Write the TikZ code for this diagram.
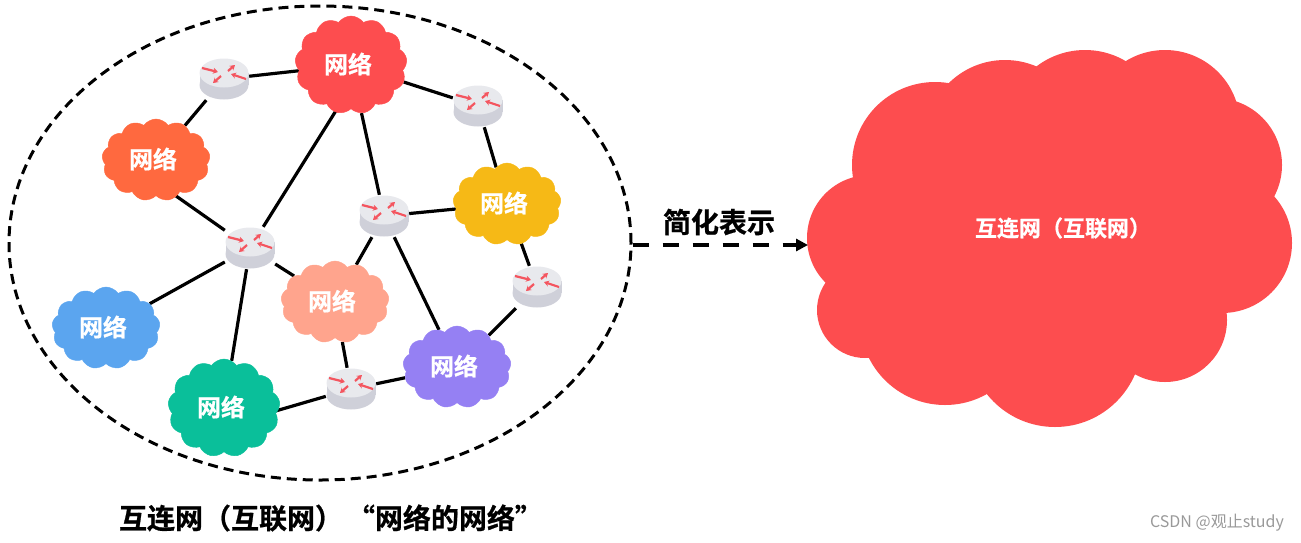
\documentclass[tikz,border=0pt]{standalone}
\usepackage{fontspec}
\newfontfamily\cjk{Noto Sans CJK SC}
\newfontfamily\cjkbold[FakeBold=0.7]{Noto Sans CJK SC Bold}
\usetikzlibrary{
  arrows.meta, shapes.geometric, shapes.symbols,
  positioning, backgrounds
}
\definecolor{netred}{HTML}{FD4D4F}
\definecolor{netorange}{HTML}{FF693F}
\definecolor{netyellow}{HTML}{F6B916}
\definecolor{netsalmon}{HTML}{FFA48D}
\definecolor{netblue}{HTML}{5BA5EF}
\definecolor{netpurple}{HTML}{9580F3}
\definecolor{netgreen}{HTML}{0ABF9A}
\definecolor{routertop}{HTML}{E8E9ED}
\definecolor{routerside}{HTML}{CFD0D9}
\definecolor{routerarrow}{HTML}{F4555F}
\tikzset{
  net/.style={
    cloud, cloud puffs=13, cloud puff arc=110, draw=#1, fill=#1,
    inner sep=0pt, minimum width=108pt, minimum height=82pt,
    align=center, text=white, font=\cjkbold\fontsize{24}{26}\selectfont
  },
  routerbody/.style={
    inner sep=0pt, minimum width=50pt, minimum height=42pt
  },
  routertip/.style={-{Stealth[length=5pt,width=6pt]}, line width=2.2pt, draw=routerarrow},
  link/.style={line width=3.2pt, draw=black},
  caption/.style={font=\cjkbold\fontsize{28}{30}\selectfont, text=black}
}
\newcommand{\netlabel}{\hspace*{-6pt}\raisebox{4pt}{网络}}
\newcommand{\router}[2]{
  \begin{scope}[shift={(#2)}]
    \node[routerbody] (#1) at (0,0) {};
    \fill[routerside] (0,6) ellipse[x radius=24.5, y radius=14.5];
    \fill[routerside] (-24.5,-6) rectangle (24.5,6);
    \fill[routertop] (0,-6) ellipse[x radius=24.5, y radius=14.5];
    \draw[routertip] (-22,-11) -- (-6,-7);
    \draw[routertip] (4,-8) -- (11,-14);
    \draw[routertip] (22,0) -- (7,-5);
    \draw[routertip] (-3,-3) -- (-11,4);
  \end{scope}
}

\begin{document}
\begin{tikzpicture}[x=1pt, y=-1pt]
  \useasboundingbox (0,0) rectangle (1301,542);

  \node[net=netred, minimum width=112pt, minimum height=98pt] (red) at (351,65) {\netlabel};
  \node[net=netorange] (orange) at (156,160) {\netlabel};
  \node[net=netyellow] (yellow) at (507,204) {\netlabel};
  \node[net=netsalmon] (salmon) at (335,302) {\netlabel};
  \node[net=netblue] (blue) at (106,328) {\netlabel};
  \node[net=netpurple] (purple) at (457,367) {\netlabel};
  \node[net=netgreen, minimum width=112pt, minimum height=98pt] (green) at (224,408) {\netlabel};

  \router{rone}{224,79}
  \router{rtwo}{478,106}
  \router{rthree}{384,216}
  \router{rfour}{250,248}
  \router{rfive}{537,287}
  \router{rsix}{351,389}

  \begin{scope}[on background layer]
    \draw[link] (rone) -- (red);
    \draw[link] (rone) -- (orange);
    \draw[link] (red) -- (rtwo);
    \draw[link] (rtwo) -- (yellow);
    \draw[link] (red) -- (rthree);
    \draw[link] (rfour) -- ([xshift=-14pt]red.south);
    \draw[link] (rfour) -- ([xshift=20pt]orange.south);
    \draw[link] (rthree) -- (yellow);
    \draw[link] (rthree) -- (salmon);
    \draw[link] (rthree) -- (purple);
    \draw[link] (rfour) -- (salmon);
    \draw[link] (rfour) -- (blue);
    \draw[link] (rfour) -- (green);
    \draw[link] (yellow) -- (rfive);
    \draw[link] (rfive) -- (purple);
    \draw[link] (salmon) -- (rsix);
    \draw[link] (rsix) -- ([yshift=-18pt]green.center);
    \draw[link] (rsix) -- (purple);
  \end{scope}

  \node[ellipse, draw, line width=3pt, dash pattern=on 10pt off 6pt, inner sep=0pt,
    minimum width=622pt, minimum height=474pt] (internet) at (320,243) {};

  % big cloud
  \foreach \cx/\cy/\cr in {935/165/83, 1005/140/80, 1085/130/80, 1165/125/75, 1215/165/67,
      1222/243/70, 1165/320/62, 1055/340/87, 945/320/85, 865/310/48, 870/238/63, 1050/230/150}
    \fill[netred] (\cx,\cy) circle[radius=\cr];
  \node[font=\cjkbold\fontsize{22}{24}\selectfont, text=white] (bignet) at (1063,228) {互连网（互联网）};
  \coordinate (bigwest) at (808,245);

  \draw[line width=4pt, dash pattern=on 16pt off 14pt, -{Triangle[length=12pt,width=12pt]}]
    ([yshift=-2pt]internet.east) -- (bigwest);
  \node[caption] (simplify) at (719,222) {简化表示};
  \node[caption] (title) at (331,518) {互连网（互联网）\hspace{4pt}“网络的网络”};
  \node[font=\cjk\fontsize{16}{18}\selectfont, text=black!40] (mark) at (1217,523) {CSDN @观止study};
\end{tikzpicture}
\end{document}
